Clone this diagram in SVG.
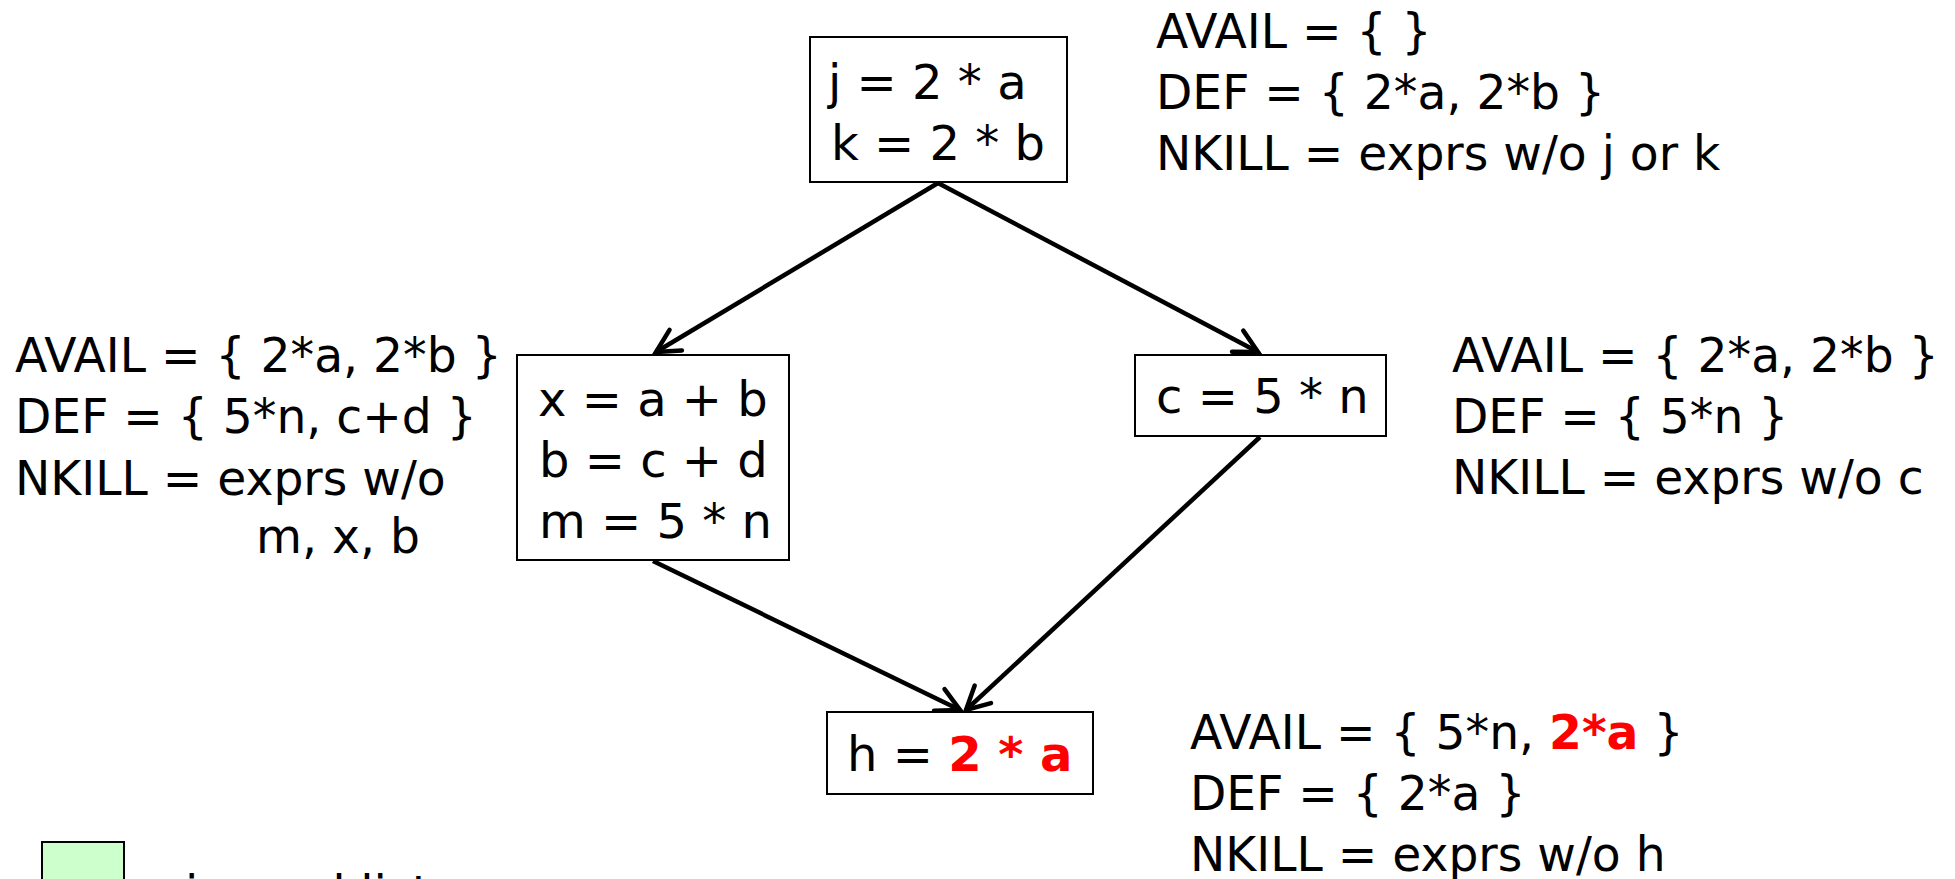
<svg xmlns="http://www.w3.org/2000/svg" width="1955" height="879" viewBox="0 0 1955 879">
  <style>
    .t { font-family: "DejaVu Sans", "Liberation Sans", sans-serif; font-size: 48px; fill: #000; }
    .l { font-family: "DejaVu Sans", "Liberation Sans", sans-serif; font-size: 47.2px; fill: #000; }
    .r { font-weight: bold; fill: #FF0000; }
    .box { fill: #FFFFFF; stroke: #000; stroke-width: 2; }
    .edge { fill: none; stroke: #000; stroke-width: 4.5; marker-end: url(#arr); }
  </style>
  <defs>
    <marker id="arr" markerUnits="userSpaceOnUse" viewBox="-30 -16 34 32" refX="0" refY="0" markerWidth="34" markerHeight="32" orient="auto">
      <path d="M-23,-12 L0,0 L-23,12" fill="none" stroke="#000" stroke-width="4.5" stroke-linecap="round" stroke-linejoin="miter"/>
    </marker>
  </defs>
  <rect width="1955" height="879" fill="#FFFFFF"/>

  <g id="connectors">
    <line class="edge" x1="938" y1="183" x2="656" y2="352"/>
    <line class="edge" x1="938" y1="183" x2="1258" y2="352"/>
    <line class="edge" x1="653" y1="561" x2="960" y2="710"/>
    <line class="edge" x1="1260" y1="437" x2="966" y2="710"/>
  </g>

  <g id="node-top">
    <rect class="box" x="810" y="37" width="257" height="145"/>
    <text class="t" x="828" y="99">j = 2 * a</text>
    <text class="t" x="831" y="160">k = 2 * b</text>
  </g>
  <g id="label-top">
    <text class="l" x="1156" y="48">AVAIL = { }</text>
    <text class="l" x="1156" y="109">DEF = { 2*a, 2*b }</text>
    <text class="l" x="1156" y="170">NKILL = exprs w/o j or k</text>
  </g>

  <g id="node-left">
    <rect class="box" x="517" y="355" width="272" height="205"/>
    <text class="t" x="538" y="416">x = a + b</text>
    <text class="t" x="539" y="477">b = c + d</text>
    <text class="t" x="539" y="538">m = 5 * n</text>
  </g>
  <g id="label-left">
    <text class="l" x="15" y="372">AVAIL = { 2*a, 2*b }</text>
    <text class="l" x="15" y="433">DEF = { 5*n, c+d }</text>
    <text class="l" x="15" y="495">NKILL = exprs w/o</text>
    <text class="l" x="256" y="553">m, x, b</text>
  </g>

  <g id="node-right">
    <rect class="box" x="1135" y="355" width="251" height="81"/>
    <text class="t" x="1156" y="413">c = 5 * n</text>
  </g>
  <g id="label-right">
    <text class="l" x="1452" y="372">AVAIL = { 2*a, 2*b }</text>
    <text class="l" x="1452" y="433">DEF = { 5*n }</text>
    <text class="l" x="1452" y="494">NKILL = exprs w/o c</text>
  </g>

  <g id="node-bottom">
    <rect class="box" x="827" y="712" width="266" height="82"/>
    <text class="t" x="847" y="771">h = <tspan class="r">2 * a</tspan></text>
  </g>
  <g id="label-bottom">
    <text class="l" x="1190" y="749">AVAIL = { 5*n, <tspan class="r">2*a</tspan> }</text>
    <text class="l" x="1190" y="810">DEF = { 2*a }</text>
    <text class="l" x="1190" y="871">NKILL = exprs w/o h</text>
  </g>

  <g id="legend">
    <rect x="42" y="842" width="82" height="60" fill="#CCFFCC" stroke="#000" stroke-width="2"/>
    <text class="t" x="185" y="910">in worklist</text>
  </g>
</svg>
